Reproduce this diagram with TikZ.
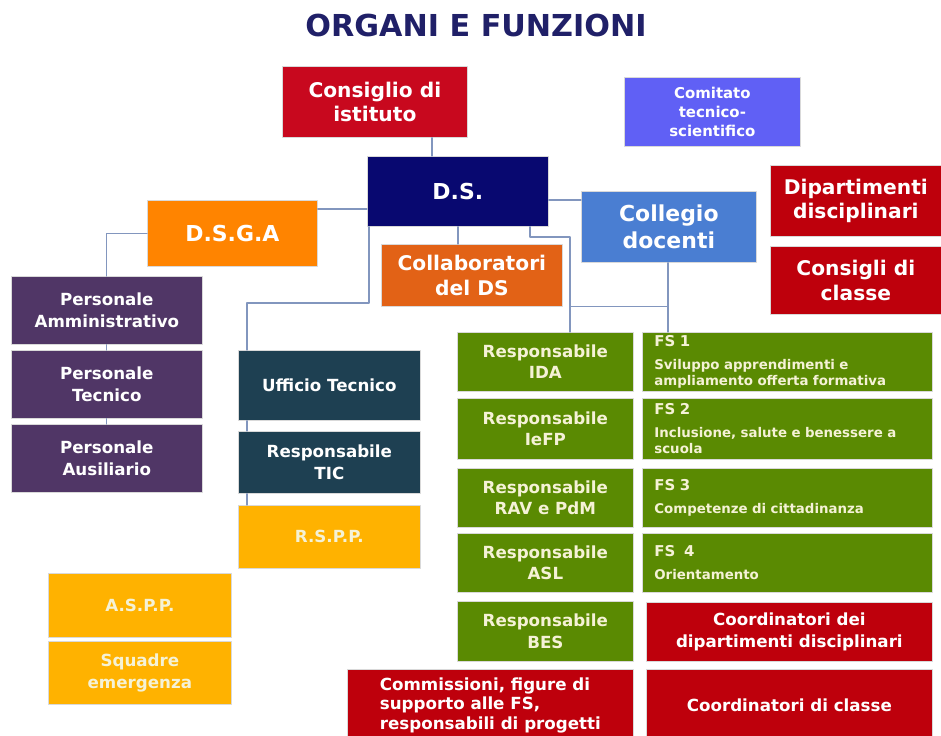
\documentclass[tikz,border=0pt]{standalone}
\usepackage{fontspec}
\setmainfont{DejaVu Sans}
\definecolor{cRed}{RGB}{200,8,30}
\definecolor{cDark}{RGB}{190,0,12}
\definecolor{cLav}{RGB}{96,96,245}
\definecolor{cNavy}{RGB}{8,8,112}
\definecolor{cBlue}{RGB}{74,126,210}
\definecolor{cOrange}{RGB}{255,132,0}
\definecolor{cRust}{RGB}{226,98,22}
\definecolor{cPurple}{RGB}{80,54,102}
\definecolor{cTeal}{RGB}{30,64,82}
\definecolor{cGold}{RGB}{255,178,0}
\definecolor{cGreen}{RGB}{90,138,2}
\definecolor{cCream}{RGB}{245,242,214}
\definecolor{cLink}{RGB}{130,150,190}
\definecolor{cTitle}{RGB}{32,32,104}
\newcommand\szT{\fontsize{17.2}{19}\selectfont}
\newcommand\szXL{\fontsize{12.5}{15.3}\selectfont}
\newcommand\szL{\fontsize{11.5}{14}\selectfont}
\newcommand\szM{\fontsize{9.5}{12.2}\selectfont}
\newcommand\szC{\fontsize{8.5}{10.8}\selectfont}
\newcommand\szXS{\fontsize{7.6}{9}\selectfont}
\begin{document}
\begin{tikzpicture}[x=0.02cm,y=-0.02cm,line join=round,line cap=round,
  box/.style={draw=black!15,line width=0.4pt,fill=#1,text=white,anchor=north west,align=center,inner sep=0pt},
  sz/.style 2 args={minimum width=#1*0.02cm,minimum height=#2*0.02cm},
  fs/.style={box=cGreen,text=cCream,align=left,text width=5.32cm,font=\bfseries\szXS},
  link/.style={draw=cLink,line width=0.6pt}]
\useasboundingbox (0,0) rectangle (941,735);
\clip (0,0) rectangle (941,735);
\fill[white] (0,0) rectangle (941,735);
\node[text=cTitle,font=\bfseries\szT] (title) at (476,25) {ORGANI E FUNZIONI};
% vertice
\node[box=cRed,sz={185}{71},font=\bfseries\szL] (ci) at (282,66) {Consiglio di\\istituto};
\node[box=cLav,sz={176}{69},font=\bfseries\szC] (cts) at (624,77) {Comitato\\tecnico-\\scientifico};
\node[box=cNavy,sz={181}{70},font=\bfseries\szXL] (ds) at (367,156) {D.S.};
\node[box=cDark,sz={171}{71},font=\bfseries\szL] (dd) at (770,165) {Dipartimenti\\disciplinari};
\node[box=cDark,sz={171}{68},font=\bfseries\szL] (cc) at (770,246) {Consigli di\\classe};
\node[box=cBlue,sz={175}{71},font=\bfseries\szXL] (cdoc) at (581,191) {Collegio\\docenti};
\node[box=cOrange,sz={170}{66},font=\bfseries\szXL] (dsga) at (147,200) {D.S.G.A};
\node[box=cRust,sz={181}{62},font=\bfseries\szL] (cd) at (381,244) {Collaboratori\\del DS};
% personale
\node[box=cPurple,sz={191}{68},font=\bfseries\szM] (pa) at (11,276) {Personale\\Amministrativo};
\node[box=cPurple,sz={191}{68},font=\bfseries\szM] (pt) at (11,350) {Personale\\Tecnico};
\node[box=cPurple,sz={191}{68},font=\bfseries\szM] (pau) at (11,424) {Personale\\Ausiliario};
% ufficio tecnico e sicurezza
\node[box=cTeal,sz={182}{70},font=\bfseries\szM] (ut) at (238,350) {Ufficio Tecnico};
\node[box=cTeal,sz={182}{62},font=\bfseries\szM] (tic) at (238,431) {Responsabile\\TIC};
\node[box=cGold,sz={182}{63},text=cCream,font=\bfseries\szM] (rspp) at (238,505) {R.S.P.P.};
\node[box=cGold,sz={183}{64},text=cCream,font=\bfseries\szM] (aspp) at (48,573) {A.S.P.P.};
\node[box=cGold,sz={183}{63},text=cCream,font=\bfseries\szM] (sq) at (48,641) {Squadre\\emergenza};
% responsabili
\node[box=cGreen,sz={176}{59},text=cCream,font=\bfseries\szM] (ida) at (457,332) {Responsabile\\IDA};
\node[box=cGreen,sz={176}{61},text=cCream,font=\bfseries\szM] (iefp) at (457,398) {Responsabile\\IeFP};
\node[box=cGreen,sz={176}{59},text=cCream,font=\bfseries\szM] (rav) at (457,468) {Responsabile\\RAV e PdM};
\node[box=cGreen,sz={176}{59},text=cCream,font=\bfseries\szM] (asl) at (457,533) {Responsabile\\ASL};
\node[box=cGreen,sz={176}{60},text=cCream,font=\bfseries\szM] (bes) at (457,601) {Responsabile\\BES};
% funzioni strumentali
\node[fs,sz={290}{59}] (fs1) at (642,332) {{\szC FS 1}\\[4pt]Sviluppo apprendimenti e\\ampliamento offerta formativa};
\node[fs,sz={290}{61}] (fs2) at (642,398) {{\szC FS 2}\\[4pt]Inclusione, salute e benessere a\\scuola};
\node[fs,sz={290}{59}] (fs3) at (642,468) {{\szC FS 3}\\[4pt]Competenze di cittadinanza};
\node[fs,sz={290}{59}] (fs4) at (642,533) {{\szC FS\ \ 4}\\[4pt]Orientamento};
% coordinatori
\node[box=cDark,sz={286}{59},font=\bfseries\szM] (cdd) at (646,602) {Coordinatori dei\\dipartimenti disciplinari};
\node[box=cDark,sz={286}{71},font=\bfseries\szM] (cdc) at (646,669) {Coordinatori di classe};
\node[box=cDark,sz={286}{72},align=left,font=\bfseries\fontsize{9.5}{11}\selectfont] (com) at (347,669) {Commissioni, figure di\\supporto alle FS,\\responsabili di progetti};
% collegamenti
\draw[link] (ci.south -| 432,0) -- (ds.north -| 432,0);
\draw[link] (ds.west |- 0,209) -- (dsga.east |- 0,209);
\draw[link] (dsga.west) -| (pa.north);
\draw[link] (pa.south) -- (pt.north) (pt.south) -- (pau.north);
\draw[link] (ds.south -| 369,0) |- (247,303) -- (ut.north -| 247,0);
\draw[link] (ut.south -| 247,0) -- (tic.north -| 247,0) (tic.south -| 247,0) -- (rspp.north -| 247,0);
\draw[link] (ds.south -| 458,0) -- (cd.north -| 458,0);
\draw[link] (ds.south -| 530,0) |- (570,237) -- (ida.north -| 570,0);
\draw[link] (ds.east |- 0,200) -- (cdoc.west |- 0,200);
\draw[link] (cdoc.south -| 668,0) -- (fs1.north -| 668,0);
\draw[link] (cd.south -| 570,0) -- (cd.south -| 668,0);
\end{tikzpicture}
\end{document}
